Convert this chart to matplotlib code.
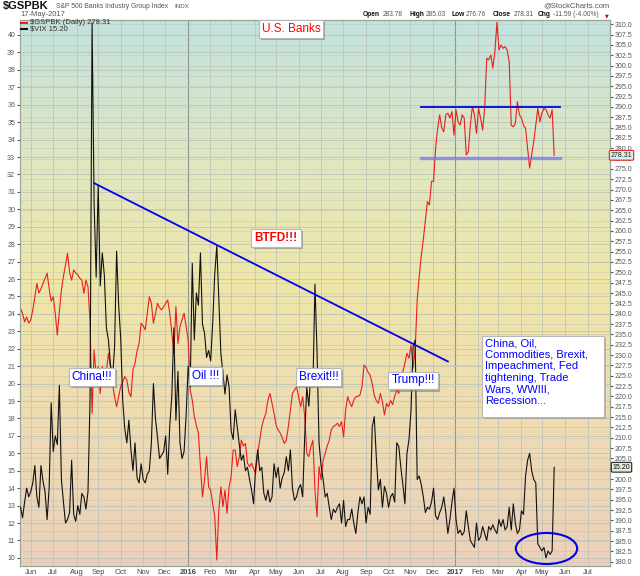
import numpy as np
import pandas as pd
import matplotlib
matplotlib.use('Agg')
import matplotlib.pyplot as plt
from matplotlib import patheffects
from matplotlib.patches import Ellipse, Rectangle
from matplotlib.lines import Line2D
from matplotlib.colors import LinearSegmentedColormap

plt.rcParams['font.family'] = ['Liberation Sans', 'DejaVu Sans']

# ---- data (one value every second trading day, 18 May 2015 .. 17 May 2017) ----
first_day = '2015-05-18'
last_day = '2017-05-17'

vix = [
    12.9, 12.3, 13.2, 14.0, 13.5,                                        # May 15
    13.8, 14.3, 15.3, 13.5, 12.9, 15.3, 14.4, 13.8, 12.2, 14.0, 18.9,    # Jun
    16.1, 17.0, 16.5, 19.9, 14.5, 13.2, 12.0, 12.2, 12.6, 15.6, 12.5, 12.1,  # Jul
    13.0, 12.5, 13.7, 13.5, 12.8, 13.8, 19.1, 40.7, 30.3, 26.1,          # Aug
    31.4, 25.6, 27.5, 26.2, 23.2, 22.5, 21.1, 20.3, 22.1, 27.6, 24.5,    # Sep
    22.6, 19.0, 17.4, 16.6, 17.9, 16.2, 15.0, 16.6, 14.6, 14.3, 15.4,    # Oct
    14.5, 14.3, 14.8, 15.0, 16.6, 20.0, 18.0, 16.9, 15.7, 15.9, 16.1,    # Nov
    17.0, 14.8, 17.6, 19.3, 23.2, 17.9, 20.7, 16.6, 15.7, 16.1, 18.2,    # Dec
    21.0, 19.8, 26.9, 22.5, 25.2, 24.5, 27.5, 23.4, 22.9, 21.5, 21.9,    # Jan 16
    21.3, 23.5, 26.3, 27.9, 24.8, 21.7, 20.6, 19.4, 20.5, 19.8,          # Feb
    17.3, 16.8, 18.5, 17.5, 16.5, 15.6, 15.9, 15.0, 15.2, 14.5, 13.9, 13.1,  # Mar
    15.2, 16.2, 15.0, 15.2, 13.7, 13.3, 13.9, 13.2, 13.5, 15.4,          # Apr
    14.6, 15.2, 14.0, 14.6, 14.9, 15.8, 15.0, 16.2, 14.0, 13.3, 13.5,    # May
    14.0, 14.2, 13.5, 17.0, 19.8, 18.7, 20.6, 19.8, 25.7, 21.9, 16.6,    # Jun
    15.3, 14.5, 13.5, 13.7, 12.9, 12.2, 12.8, 12.6, 12.9, 13.1, 12.0,    # Jul
    13.3, 11.8, 12.2, 12.2, 12.8, 12.0, 11.4, 12.6, 13.5, 13.1, 13.5,    # Aug
    12.0, 12.9, 12.5, 17.5, 18.1, 15.8, 13.9, 14.5, 12.9, 14.1, 13.7,    # Sep
    12.9, 13.5, 13.7, 13.2, 16.6, 16.4, 15.2, 14.2, 13.1, 16.0, 16.8,    # Oct
    18.5, 22.1, 22.5, 14.5, 14.7, 14.2, 13.5, 12.6, 12.9, 12.8, 13.2,    # Nov
    14.0, 12.4, 12.2, 12.6, 12.9, 13.5, 12.6, 11.4, 12.2, 13.2, 14.0,    # Dec
    12.2, 11.4, 11.6, 11.3, 11.5, 12.7, 11.8, 11.0, 10.8, 10.6, 12.0,    # Jan 17
    11.0, 11.2, 11.8, 11.4, 11.0, 11.8, 11.6, 11.9, 11.6, 11.4,          # Feb
    12.2, 11.8, 12.2, 11.6, 11.8, 12.9, 11.6, 13.1, 12.0, 11.4, 11.6,    # Mar
    12.7, 12.5, 14.7, 15.6, 16.0, 15.0, 14.5, 14.3, 10.8, 10.6,          # Apr
    10.4, 10.6, 10.0, 10.4, 10.2, 10.4, 15.2,                            # May
]

banks = [
    241.3, 240.1, 238.0, 239.2, 237.7,                                              # May 15
    238.5, 240.9, 244.0, 247.3, 245.0, 246.0, 247.3, 248.5, 249.8, 246.1, 243.0,    # Jun
    244.1, 240.0, 234.8, 240.5, 245.7, 249.0, 251.8, 254.6, 250.0, 248.1, 250.6, 249.8,  # Jul
    249.4, 248.6, 248.1, 244.9, 248.1, 246.5, 238.0, 215.9, 231.2, 225.0,          # Aug
    227.2, 220.7, 227.2, 224.0, 226.0, 230.4, 227.0, 223.2, 219.9, 217.5, 220.0,    # Sep
    222.4, 223.5, 224.8, 224.0, 221.0, 219.9, 226.4, 228.0, 231.0, 232.8, 237.7,    # Oct
    237.0, 236.1, 240.1, 244.1, 242.5, 237.7, 240.0, 242.5, 241.5, 240.9, 241.7,    # Nov
    242.5, 243.3, 240.1, 235.3, 230.4, 241.7, 232.8, 236.9, 238.5, 240.1, 236.9,    # Dec
    233.6, 221.5, 219.1, 215.1, 213.0, 211.1, 203.0, 195.7, 199.8, 205.4, 198.1,    # Jan 16
    197.3, 194.0, 190.9, 180.4, 192.5, 198.1, 193.3, 197.3, 191.7, 198.0,          # Feb
    200.6, 207.0, 207.0, 203.0, 205.4, 209.4, 208.0, 208.6, 203.8, 203.0, 203.8, 202.5,  # Mar
    201.4, 206.2, 209.4, 212.7, 214.5, 215.9, 219.1, 220.7, 218.3, 215.9,          # Apr
    213.0, 211.9, 211.1, 210.0, 208.6, 209.4, 212.7, 216.7, 220.7, 221.5, 222.3,    # May
    219.9, 217.5, 219.9, 215.1, 206.2, 205.4, 207.8, 209.4, 197.3, 190.9, 203.0,    # Jun
    199.8, 204.6, 206.2, 208.0, 209.4, 211.9, 212.7, 213.0, 213.5, 212.7, 213.9,    # Jul
    210.2, 216.7, 219.9, 218.5, 217.5, 219.1, 219.9, 220.0, 220.3, 222.3, 227.6,    # Aug
    227.0, 225.8, 225.1, 223.1, 220.3, 219.0, 218.3, 220.7, 218.7, 215.5, 218.3,    # Sep
    217.5, 219.0, 218.0, 220.0, 221.5, 220.7, 223.5, 226.0, 228.0, 230.4, 229.2,    # Oct
    232.4, 226.8, 231.2, 243.3, 249.0, 254.0, 258.0, 262.5, 267.1, 266.3, 272.0,    # Nov
    272.0, 280.0, 284.8, 288.1, 285.0, 284.0, 288.1, 288.5, 287.3, 288.9, 283.2,    # Dec
    289.3, 286.4, 285.6, 288.1, 287.3, 278.4, 279.2, 285.6, 290.1, 288.1, 283.6,    # Jan 17
    289.7, 287.3, 284.4, 289.7, 301.8, 301.4, 302.6, 299.4, 303.4, 310.5,          # Feb
    303.8, 305.0, 304.2, 304.6, 303.8, 301.0, 285.6, 285.2, 286.0, 291.3, 288.1,    # Mar
    287.3, 285.6, 284.8, 280.0, 275.2, 278.5, 281.6, 285.6, 289.7, 286.4,          # Apr
    288.5, 289.7, 289.3, 288.1, 287.3, 289.3, 278.31,                               # May
]

vix_ticks = np.arange(10, 41, 1)
bank_ticks = np.arange(180, 310.1, 2.5)

# drawn-in levels and trend line
resistance = 290.0
support = 277.7
levels_from, levels_to = '2016-11-16', '2017-05-25'
trend_from, trend_to = '2015-08-26', '2016-12-22'
trend_vals = (31.5, 21.27)

# ---- trading-day axis ----
days = pd.bdate_range(first_day, '2017-08-15')
n_days = len(pd.bdate_range(first_day, last_day))
x_pts = np.arange(n_days)[::2]


def day_idx(d):
    return int(np.searchsorted(days, pd.Timestamp(d)))


month_starts = pd.date_range('2015-06-01', '2017-07-01', freq='MS')
tick_pos = [day_idx(m) for m in month_starts]
tick_lab = [m.strftime('%Y') if m.month == 1 else m.strftime('%b') for m in month_starts]

W, H = 640, 576
fig = plt.figure(figsize=(W / 100, H / 100), dpi=100)
fig.patch.set_facecolor('white')
rect = [20 / W, (H - 566) / H, 590 / W, 546 / H]

ax2 = fig.add_axes(rect)                    # banks (right scale), bottom layer
ax = fig.add_axes(rect, sharex=ax2)         # vix (left scale), top layer
ax.patch.set_visible(False)

vix_lim = (9.535, 40.86)
bank_lim = (178.96, 311.04)
x_lim = (-0.5, 576.6)

# background gradient
grad = LinearSegmentedColormap.from_list(
    'bg', [(0.0, '#ebd1bb'), (0.25, '#eedbb3'), (0.52, '#efe6a8'), (0.75, '#dfe6c2'), (1.0, '#c2e2df')])
ax2.imshow(np.linspace(0, 1, 256).reshape(-1, 1), cmap=grad, origin='lower',
           extent=[0, 1, 0, 1], transform=ax2.transAxes, aspect='auto', zorder=0)

# grid
grid_c = '#b8c0b6'
for p, m in zip(tick_pos, month_starts):
    ax2.axvline(p, color='#8f958f' if m.month == 1 else grid_c, lw=0.8 if m.month == 1 else 0.5, zorder=1)
for v in bank_ticks:
    ax2.axhline(v, color=grid_c, lw=0.4, alpha=0.7, zorder=1)
for v in vix_ticks:
    f = (v - vix_lim[0]) / (vix_lim[1] - vix_lim[0])
    ax2.plot([0, 1], [f, f], transform=ax2.transAxes, color=grid_c, lw=0.5, zorder=1)

# series
ax2.plot(x_pts[:len(banks)], banks, color='#e8201a', lw=0.8, zorder=3)
ax.plot(x_pts[:len(vix)], vix, color='#111111', lw=0.8, zorder=3)

# support / resistance
x0, x1 = day_idx(levels_from), day_idx(levels_to)
ax2.plot([x0, x1], [resistance, resistance], color='#0000ee', lw=1.3, zorder=4)
ax2.plot([x0, x1], [support, support], color='#6f6fff', lw=2.4, alpha=0.7, zorder=4)

# trend line and ellipse
ax.plot([day_idx(trend_from), day_idx(trend_to)], trend_vals, color='#0000ee', lw=1.3, zorder=4)
ax.add_patch(Ellipse((day_idx('2017-05-05') + 0.5, 10.54), 60, 1.78,
                     fill=False, ec='#0000ee', lw=1.5, zorder=5))

ax.set_xlim(*x_lim)
ax.set_ylim(*vix_lim)
ax2.set_ylim(*bank_lim)

# ticks
ax.set_yticks(vix_ticks)
ax.set_yticklabels([str(v) for v in vix_ticks])
ax2.yaxis.tick_right()
ax2.set_yticks(bank_ticks)
ax2.set_yticklabels(['%.1f' % v for v in bank_ticks])
ax.set_xticks(tick_pos)
ax.set_xticklabels(tick_lab)
for lab, m in zip(ax.get_xticklabels(), month_starts):
    if m.month == 1:
        lab.set_fontweight('bold')
        lab.set_color('#111111')
ax.tick_params(axis='x', labelsize=5.5, length=0, pad=2, colors='#444444')
ax.tick_params(axis='y', labelsize=5, length=2.5, pad=1, colors='#555555')
ax2.tick_params(axis='y', labelsize=5, length=2.5, pad=1, colors='#555555')
ax2.tick_params(axis='x', labelbottom=False, length=0)
for a in (ax, ax2):
    for s in a.spines.values():
        s.set_color('#9aa59a')
        s.set_linewidth(0.8)

# value tags on right axis (drawn on the top axes so they cover the tick labels)
ax.text(1.0195, 278.31, '278.31', transform=ax2.get_yaxis_transform(), fontsize=5, ha='center',
        va='center', color='#222222', zorder=6, clip_on=False,
        bbox=dict(boxstyle='round,pad=0.2', fc='#d8efec', ec='#e8201a', lw=0.8))
ax.text(1.0195, 15.2, '15.20', transform=ax.get_yaxis_transform(), fontsize=5, ha='center',
        va='center', color='#111111', zorder=6, clip_on=False,
        bbox=dict(boxstyle='round,pad=0.2', fc='#e6e8d8', ec='#222222', lw=0.8))

# callouts (positions in pixels of the 640x576 picture)
def axfrac(px, py):
    return (px - 20) / 590, (566 - py) / 546


shadow = [patheffects.withSimplePatchShadow(offset=(1.5, -1.5), shadow_rgbFace='#777777', alpha=0.55)]


def callout(px, py, s, color, size=8.5, weight='normal'):
    fx, fy = axfrac(px, py)
    t = ax.text(fx, fy, s, transform=ax.transAxes, color=color, fontsize=size, fontweight=weight,
                ha='center', va='center', zorder=10,
                bbox=dict(boxstyle='square,pad=0.25', fc='white', ec='#b8b8b8', lw=0.8))
    t.get_bbox_patch().set_path_effects(shadow)


callout(291, 29, 'U.S. Banks', '#ff0000', 8.5)
callout(276, 238, 'BTFD!!!', '#ff0000', 8.5, 'bold')
callout(92, 377, 'China!!!', '#0000ff')
callout(205.5, 376, 'Oil !!!', '#0000ff')
callout(318.5, 377, 'Brexit!!!', '#0000ff')
callout(413, 380.5, 'Trump!!!', '#0000ff')

bx0, by0 = axfrac(482.3, 416.7)
bw, bh = 122 / 590, 80.7 / 546
ax.add_patch(Rectangle((bx0 + 2 / 590, by0 - 2 / 546), bw, bh, transform=ax.transAxes,
                       fc='#888888', alpha=0.5, ec='none', zorder=9))
ax.add_patch(Rectangle((bx0, by0), bw, bh, transform=ax.transAxes,
                       fc='white', ec='#b8b8b8', lw=0.8, zorder=9))
tx, ty = axfrac(485, 338)
ax.text(tx, ty, 'China, Oil,\nCommodities, Brexit,\nImpeachment, Fed\ntightening, Trade\nWars, WWIII,\nRecession...',
        transform=ax.transAxes, color='#0000ff', fontsize=8, ha='left', va='top', linespacing=1.2, zorder=10)

# legend inside plot
def fxy(px, py):
    return px / W, 1 - py / H


fig.add_artist(Line2D([21 / W, 27 / W], [fxy(0, 22.7)[1]] * 2, color='#e8201a', lw=1.5))
fig.add_artist(Line2D([21 / W, 27 / W], [fxy(0, 29.3)[1]] * 2, color='#111111', lw=1.5))
fig.text(*fxy(30, 22.7), r'\$GSPBK (Daily) 278.31', fontsize=5.5, va='center', color='#333333')
fig.text(*fxy(30, 29.3), r'\$VIX 15.20', fontsize=5.5, va='center', color='#333333')

# header
fig.text(*fxy(3, 6), r'\$GSPBK', fontsize=8, fontweight='bold', va='center', color='#111111')
fig.text(*fxy(56, 6.5), 'S&P 500 Banks Industry Group Index', fontsize=4.9, va='center', color='#555555')
fig.text(*fxy(174, 6.5), 'INDX', fontsize=4.5, va='center', color='#555555')
fig.text(*fxy(20, 14.5), '17-May-2017', fontsize=5.5, va='center', color='#555555')
fig.text(*fxy(610, 6), '@StockCharts.com', fontsize=5.5, va='center', ha='right', color='#555555')

quote = [(363, 'Open', True), (383, '283.78', False), (409, 'High', True), (426, '285.03', False),
         (452, 'Low', True), (466, '276.76', False), (493, 'Close', True), (514, '278.31', False),
         (538, 'Chg', True), (553, '-11.59 (-4.00%)', False)]
for px, s, bold in quote:
    fig.text(*fxy(px, 15), s, fontsize=4.8, va='center', fontweight='bold' if bold else 'normal',
             color='#111111' if bold else '#555555')
fig.text(*fxy(604.5, 15.5), '\u25bc', fontsize=3.5, va='center', color='#cc0000', family='DejaVu Sans')

fig.savefig('out.png', dpi=100)
